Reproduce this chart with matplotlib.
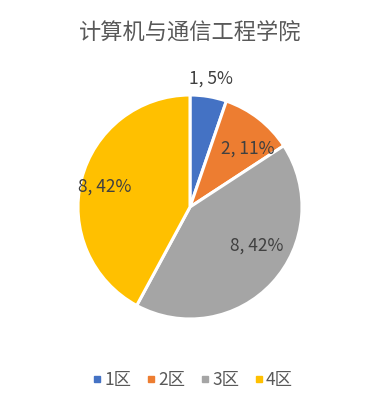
import matplotlib.pyplot as plt
import numpy as np

plt.rcParams['font.family'] = ['Noto Sans CJK SC', 'DejaVu Sans']

categories = ['1区', '2区', '3区', '4区']
values = [1, 2, 8, 8]
colors = ['#4472C4', '#ED7D31', '#A5A5A5', '#FFC000']
title = '计算机与通信工程学院'

# label placement (radius, angle shift in degrees) per slice
label_r = [1.16, 0.73, 0.69, 0.78]
label_shift = [0, -7, 13, 1]

fig = plt.figure(figsize=(3.82, 4.08), dpi=100)
ax = fig.add_axes([(190 - 112) / 382, (201 - 112) / 408, 224 / 382, 224 / 408])

wedges, _ = ax.pie(values, colors=colors, startangle=90, counterclock=False,
                   wedgeprops=dict(edgecolor='white', linewidth=2.2))
ax.set_xlim(-1, 1)
ax.set_ylim(-1, 1)
ax.set_aspect('equal')

total = sum(values)
for w, v, r, s in zip(wedges, values, label_r, label_shift):
    mid = np.deg2rad((w.theta1 + w.theta2) / 2 + s)
    pct = round(v / total * 100)
    ax.text(r * np.cos(mid), r * np.sin(mid), f'{v}, {pct}%',
            ha='center', va='center', fontsize=12.5, color='#404040')

fig.text(190 / 382, 1 - 33 / 408, title, ha='center', va='center',
         fontsize=16, color='#595959')

handles = [plt.Line2D([], [], marker='s', linestyle='', color=c, markersize=5)
           for c in colors]
fig.legend(handles, categories, loc='center', bbox_to_anchor=(192 / 382, 1 - 380 / 408),
           ncol=4, frameon=False, fontsize=12.5, handletextpad=0.05, columnspacing=0.8,
           labelcolor='#595959', handlelength=0.7)

fig.savefig('out.png', dpi=100, facecolor='white')
